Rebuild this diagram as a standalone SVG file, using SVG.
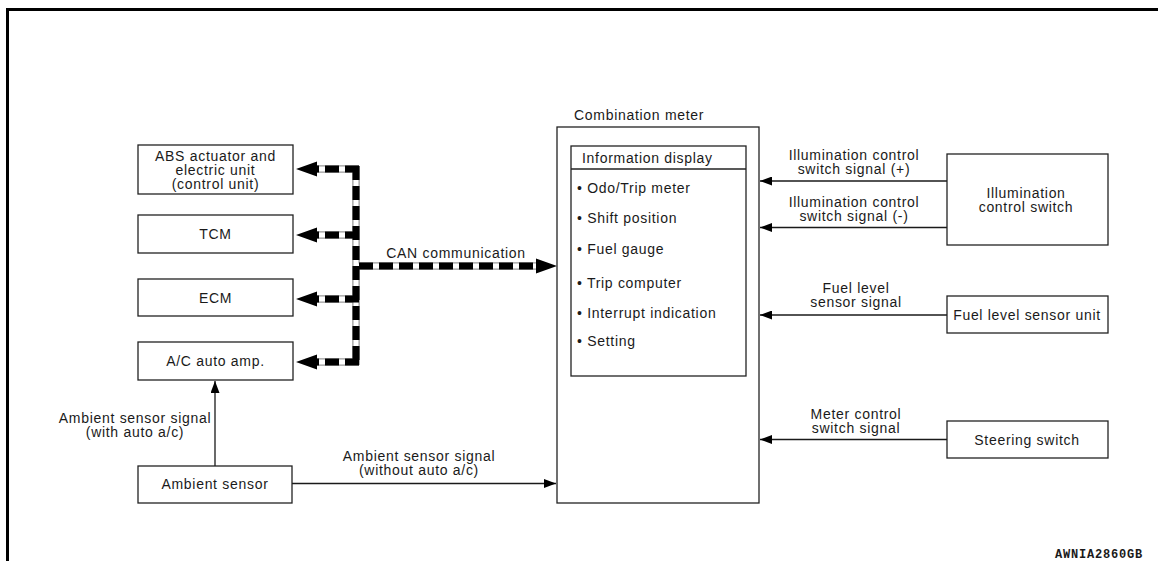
<svg xmlns="http://www.w3.org/2000/svg" width="1158" height="561" viewBox="0 0 1158 561">
<style>
  text { font-family: "Liberation Sans", Arial, sans-serif; font-size: 14px; letter-spacing: 0.7px; fill: #1a1a1a; }
  .c { text-anchor: middle; }
  .box { fill: #ffffff; stroke: #222; stroke-width: 1.3; }
  .sig { stroke: #1a1a1a; stroke-width: 1.3; fill: none; }
  .busO { stroke: #999; stroke-width: 7.5; fill: none; }
  .busW { stroke: #fff; stroke-width: 5; fill: none; }
  .busB { stroke: #000; stroke-width: 7; fill: none; stroke-dasharray: 14 6; }
  .code { font-family: "Liberation Mono", "Courier New", monospace; font-weight: bold; font-size: 12px; letter-spacing: 0.8px; text-anchor: end; }
</style>
<defs>
  <marker id="a" markerUnits="userSpaceOnUse" markerWidth="13" markerHeight="9" refX="12" refY="4.5" orient="auto">
    <path d="M0,0 L12,4.5 L0,9 Z" fill="#000"/>
  </marker>
</defs>
<rect x="0" y="0" width="1158" height="561" fill="#fff"/>
<path d="M7.5,561 V9.5 H1158" fill="none" stroke="#000" stroke-width="3"/>

<g id="connectors">
  <g>
    <path class="busO" d="M356,166 V365 M317,169 H359 M317,235 H359 M317,299 H359 M317,362 H359 M356,266 H538"/>
    <path class="busW" d="M356,166 V365 M317,169 H359 M317,235 H359 M317,299 H359 M317,362 H359 M356,266 H538"/>
    <path class="busB" d="M356,166 V365"/>
    <path class="busB" d="M359,169 H317 M359,235 H317 M359,299 H317 M359,362 H317"/>
    <path class="busB" d="M359,266 H538"/>
    <path d="M296,169 L317,161.5 L317,176.5 Z M296,235 L317,227.5 L317,242.5 Z M296,299 L317,291.5 L317,306.5 Z M296,362 L317,354.5 L317,369.5 Z M557,266 L536,258.5 L536,273.5 Z" fill="#000"/>
    <text class="c" x="456" y="258">CAN communication</text>
  </g>
  <line class="sig" x1="947" y1="181" x2="760" y2="181" marker-end="url(#a)"/>
  <line class="sig" x1="947" y1="227.5" x2="760" y2="227.5" marker-end="url(#a)"/>
  <line class="sig" x1="947" y1="315" x2="760" y2="315" marker-end="url(#a)"/>
  <line class="sig" x1="947" y1="439.5" x2="760" y2="439.5" marker-end="url(#a)"/>
  <line class="sig" x1="292" y1="483.5" x2="556" y2="483.5" marker-end="url(#a)"/>
  <line class="sig" x1="215" y1="466" x2="215" y2="381" marker-end="url(#a)"/>
  <text class="c" x="854" y="160">Illumination control</text>
  <text class="c" x="854" y="174">switch signal (+)</text>
  <text class="c" x="854" y="206.5">Illumination control</text>
  <text class="c" x="854" y="220.5">switch signal (-)</text>
  <text class="c" x="856" y="292.5">Fuel level</text>
  <text class="c" x="856" y="307">sensor signal</text>
  <text class="c" x="856" y="418.5">Meter control</text>
  <text class="c" x="856" y="432.5">switch signal</text>
  <text class="c" x="135" y="423">Ambient sensor signal</text>
  <text class="c" x="135" y="437">(with auto a/c)</text>
  <text class="c" x="419" y="461">Ambient sensor signal</text>
  <text class="c" x="419" y="475">(without auto a/c)</text>
</g>

<g id="abs">
  <rect class="box" x="138" y="145" width="155" height="49"/>
  <text class="c" x="215.5" y="161">ABS actuator and</text>
  <text class="c" x="215.5" y="175">electric unit</text>
  <text class="c" x="215.5" y="189">(control unit)</text>
</g>
<g id="tcm">
  <rect class="box" x="138" y="215" width="155" height="38"/>
  <text class="c" x="215.5" y="239">TCM</text>
</g>
<g id="ecm">
  <rect class="box" x="138" y="279" width="155" height="37"/>
  <text class="c" x="215.5" y="302.5">ECM</text>
</g>
<g id="ac">
  <rect class="box" x="138" y="342" width="155" height="38"/>
  <text class="c" x="215.5" y="366">A/C auto amp.</text>
</g>
<g id="ambient">
  <rect class="box" x="138" y="466" width="154" height="37"/>
  <text class="c" x="215" y="489">Ambient sensor</text>
</g>

<g id="meter">
  <text x="574" y="120">Combination meter</text>
  <rect class="box" x="557" y="127" width="202" height="376"/>
  <rect class="box" x="571" y="146" width="175" height="230"/>
  <line x1="571" y1="169" x2="746" y2="169" stroke="#222" stroke-width="1.3"/>
  <text x="582" y="163">Information display</text>
  <text x="577" y="193">• Odo/Trip meter</text>
  <text x="577" y="223">• Shift position</text>
  <text x="577" y="254">• Fuel gauge</text>
  <text x="577" y="288">• Trip computer</text>
  <text x="577" y="318">• Interrupt indication</text>
  <text x="577" y="346">• Setting</text>
</g>

<g id="illum">
  <rect class="box" x="947" y="154" width="161" height="91"/>
  <text class="c" x="1026" y="197.5">Illumination</text>
  <text class="c" x="1026" y="212">control switch</text>
</g>
<g id="fuel">
  <rect class="box" x="947" y="296" width="161" height="37"/>
  <text class="c" x="1027" y="320">Fuel level sensor unit</text>
</g>
<g id="steer">
  <rect class="box" x="947" y="421" width="161" height="37"/>
  <text class="c" x="1027" y="444.5">Steering switch</text>
</g>

<text class="code" x="1143" y="558">AWNIA2860GB</text>
</svg>
